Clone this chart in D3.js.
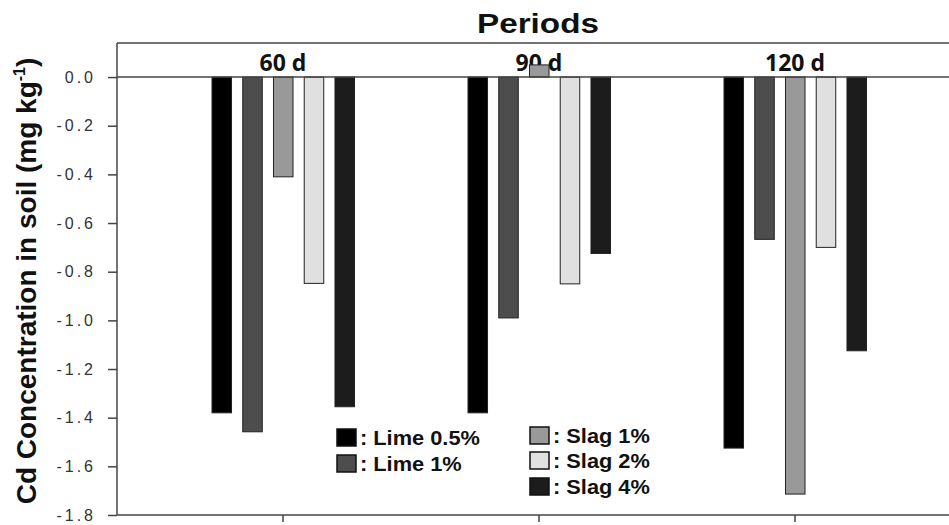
<!DOCTYPE html>
<html>
<head>
<meta charset="utf-8">
<script src="https://cdn.jsdelivr.net/npm/d3@7"></script>
<style>
  body { margin: 0; background: #fff; }
  svg { display: block; }
</style>
</head>
<body>
<div id="chart"></div>
<script>
// data
const periods = ['60 d', '90 d', '120 d'];
const treatments = ['Lime 0.5%', 'Lime 1%', 'Slag 1%', 'Slag 2%', 'Slag 4%'];
const lime05 = [-1.38, -1.38, -1.525];
const lime1 = [-1.458, -0.99, -0.667];
const slag1 = [-0.41, 0.05, -1.714];
const slag2 = [-0.848, -0.85, -0.70];
const slag4 = [-1.355, -0.725, -1.125];
const yTicks = [0.0, -0.2, -0.4, -0.6, -0.8, -1.0, -1.2, -1.4, -1.6, -1.8];

const seriesValues = [lime05, lime1, slag1, slag2, slag4];
const fills = ['#000000', '#4d4d4d', '#999999', '#e0e0e0', '#1c1c1c'];

const width = 949, height = 525;
const svg = d3.select('#chart').append('svg')
    .attr('width', width)
    .attr('height', height);

const plotLeft = 117, plotTop = 43, plotBottom = 515;

const x = d3.scaleBand()
    .domain(periods)
    .range([155, 923]);

const xInner = d3.scaleBand()
    .domain(treatments)
    .range([-71, 71.5])
    .paddingInner(0.365);

const y = d3.scaleLinear()
    .domain([-1.8, 0.14])
    .range([plotBottom, plotTop]);

const rows = [];
periods.forEach((p, i) => {
    treatments.forEach((t, j) => {
        rows.push({period: p, treatment: t, value: seriesValues[j][i], fill: fills[j]});
    });
});

// period labels (drawn under the bars, as in the original)
svg.append('g')
    .selectAll('text')
    .data(periods)
    .join('text')
    .attr('x', d => x(d) + x.bandwidth() / 2)
    .attr('y', 71)
    .attr('text-anchor', 'middle')
    .attr('font-family', 'Open Sans, sans-serif')
    .attr('font-weight', 'bold')
    .attr('font-size', 23)
    .attr('fill', '#111')
    .text(d => d);

// bars
svg.append('g')
    .selectAll('rect')
    .data(rows)
    .join('rect')
    .attr('x', d => x(d.period) + x.bandwidth() / 2 + xInner(d.treatment))
    .attr('width', xInner.bandwidth())
    .attr('y', d => y(Math.max(0, d.value)))
    .attr('height', d => Math.abs(y(d.value) - y(0)))
    .attr('fill', d => d.fill)
    .attr('stroke', '#222')
    .attr('stroke-width', 1);

// frame lines
svg.append('line')
    .attr('x1', plotLeft).attr('x2', width)
    .attr('y1', plotTop).attr('y2', plotTop)
    .attr('stroke', '#444').attr('stroke-width', 1.5);
svg.append('line')
    .attr('x1', plotLeft).attr('x2', width)
    .attr('y1', y(0)).attr('y2', y(0))
    .attr('stroke', '#444').attr('stroke-width', 1.5);

// y axis
const yAxis = d3.axisLeft(y)
    .tickValues(yTicks)
    .tickSize(9)
    .tickFormat(d3.format('.1f'));
const gy = svg.append('g')
    .attr('transform', `translate(${plotLeft},0)`)
    .call(yAxis);
gy.select('.domain').remove();
gy.append('line')
    .attr('x1', 0).attr('x2', 0)
    .attr('y1', plotTop).attr('y2', plotBottom)
    .attr('stroke', '#444').attr('stroke-width', 1.5);
gy.selectAll('.tick line').attr('stroke', '#444').attr('stroke-width', 1.5);
gy.selectAll('.tick text')
    .attr('x', -21)
    .attr('font-family', 'Liberation Sans, Arial, sans-serif')
    .attr('font-size', 16)
    .attr('letter-spacing', 3)
    .attr('fill', '#333')
    .text(d => d3.format('.1f')(d).replace('−', '-'));

// x axis
const xAxis = d3.axisBottom(x).tickSize(7).tickFormat('');
const gx = svg.append('g')
    .attr('transform', `translate(0,${plotBottom})`)
    .call(xAxis);
gx.select('.domain').remove();
gx.append('line')
    .attr('x1', plotLeft).attr('x2', width)
    .attr('stroke', '#444').attr('stroke-width', 1.5);
gx.selectAll('.tick line').attr('stroke', '#444').attr('stroke-width', 1.5);

// title
svg.append('text')
    .attr('x', 538)
    .attr('y', 33)
    .attr('text-anchor', 'middle')
    .attr('font-family', 'Liberation Sans, Arial, sans-serif')
    .attr('font-weight', 'bold')
    .attr('font-size', 27)
    .attr('textLength', 122)
    .attr('lengthAdjust', 'spacingAndGlyphs')
    .attr('fill', '#111')
    .text('Periods');

// y label
const yl = svg.append('text')
    .attr('transform', 'translate(36,281) rotate(-90)')
    .attr('text-anchor', 'middle')
    .attr('font-family', 'Liberation Sans, Arial, sans-serif')
    .attr('font-weight', 'bold')
    .attr('font-size', 28)
    .attr('fill', '#111');
yl.append('tspan').text('Cd Concentration in soil (mg kg');
yl.append('tspan').attr('font-size', 16).attr('dy', -11).text('-1');
yl.append('tspan').attr('dy', 11).text(')');

// legend
const legendPos = [
    {x: 337, y: 429},
    {x: 337, y: 455},
    {x: 530, y: 427},
    {x: 530, y: 452},
    {x: 530, y: 478}
];
const legend = svg.append('g')
    .selectAll('g')
    .data(treatments)
    .join('g')
    .attr('transform', (d, i) => `translate(${legendPos[i].x},${legendPos[i].y})`);
legend.append('rect')
    .attr('width', 19)
    .attr('height', 17)
    .attr('fill', (d, i) => fills[i])
    .attr('stroke', '#111')
    .attr('stroke-width', 1.5);
legend.append('text')
    .attr('transform', 'translate(23,16) scale(1.09,1)')
    .attr('font-family', 'Liberation Sans, Arial, sans-serif')
    .attr('font-weight', 'bold')
    .attr('font-size', 20)
    .attr('fill', '#111')
    .text(d => ': ' + d);
</script>
</body>
</html>
